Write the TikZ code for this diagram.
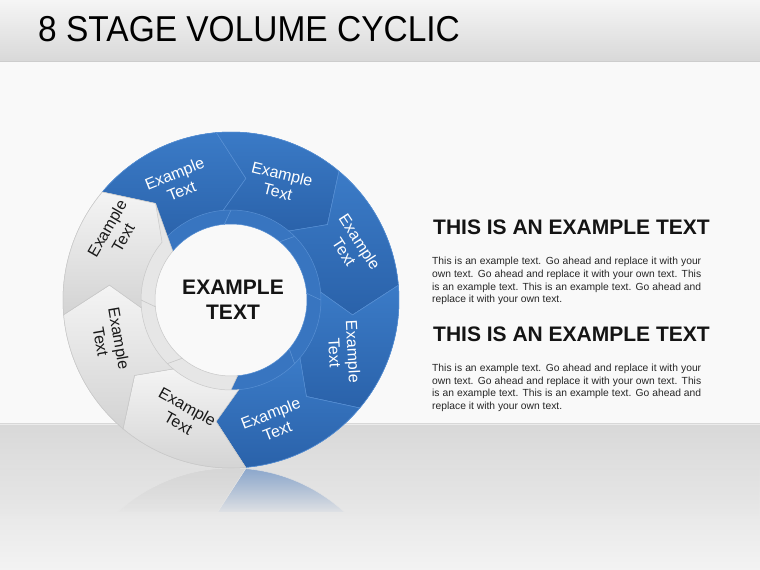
\documentclass[tikz,border=0pt]{standalone}
\usepackage{fontspec}
\setmainfont{Liberation Sans}
\newfontfamily\titlefont[FakeStretch=0.93]{Liberation Sans}
\usetikzlibrary{fadings}
\definecolor{bgwhite}{HTML}{F9F9F9}
\definecolor{titletop}{HTML}{F5F5F5}
\definecolor{titlebot}{HTML}{D8D8D8}
\definecolor{titleline}{HTML}{CDCDCD}
\definecolor{floortop}{HTML}{D8D8D8}
\definecolor{floorbot}{HTML}{F3F3F3}
\definecolor{btop}{HTML}{3B7BC7}
\definecolor{bbot}{HTML}{2A62AA}
\definecolor{bbevel}{HTML}{3875C0}
\definecolor{bedge}{HTML}{5890D4}
\definecolor{gtop}{HTML}{F4F4F4}
\definecolor{gbot}{HTML}{D3D3D3}
\definecolor{gbevel}{HTML}{E6E6E6}
\definecolor{gedge}{HTML}{C8C8C8}
\definecolor{rblue}{HTML}{8AA6CC}
\definecolor{rgray}{HTML}{D6D6D6}
\definecolor{fadeA}{HTML}{DEDEDE}
\definecolor{fadeB}{HTML}{E8E8E8}
\definecolor{bodytxt}{HTML}{262626}
\tikzfading[name=fadetofloor, top color=transparent!100, bottom color=transparent!0]
\newcommand\ringseg[3]{%
  \path[fill=#3bevel, draw=#3edge, line width=0.5pt]
    ({#1}:168) arc[start angle={#1}, end angle={#2}, radius=168]
    -- ({#2-12}:122.5) -- ({#2}:76)
    arc[start angle={#2}, end angle={#1}, radius=76]
    -- ({#1-12}:122.5) -- cycle;
  \path[top color=#3top, bottom color=#3bot, draw=#3edge, line width=0.5pt]
    ({#1}:168) arc[start angle={#1}, end angle={#2}, radius=168]
    -- ({#2-12}:122.5) -- ({#2}:90)
    arc[start angle={#2}, end angle={#1}, radius=90]
    -- ({#1-12}:122.5) -- cycle;
}
\newcommand\reflseg[3]{%
  \path[fill=#3, draw=white!90!black, line width=0.4pt]
    ({#1}:168) arc[start angle={#1}, end angle={#2}, radius=168]
    -- ({#2-12}:122.5) -- ({#2}:76)
    arc[start angle={#2}, end angle={#1}, radius=76]
    -- ({#1-12}:122.5) -- cycle;
}
\tikzset{
  seglabel/.style={font=\fontsize{16}{18.5}\selectfont, align=center, inner sep=0pt},
  onblue/.style={seglabel, text=white},
  ongray/.style={seglabel, text=black!90},
  heading/.style={font=\bfseries\fontsize{21}{24}\selectfont, anchor=base west, inner sep=0pt, text=black!92},
  bodyline/.style={font=\fontsize{10.3}{12.7}\selectfont, anchor=base west, inner sep=0pt, text=bodytxt},
  centertext/.style={font=\bfseries\fontsize{21}{24}\selectfont, anchor=base, inner sep=0pt, text=black!92}
}
\begin{document}
\begin{tikzpicture}[x=1pt,y=1pt]
\useasboundingbox (0,0) rectangle (760,570);
% background
\fill[bgwhite] (0,0) rectangle (760,570);
\shade[top color=floortop, bottom color=floorbot] (0,0) rectangle (760,146);
\draw[white!92!black, line width=0.8pt] (0,146) -- (760,146);
\shade[top color=titletop, bottom color=titlebot] (0,508) rectangle (760,570);
\draw[titleline, line width=1.2pt] (0,508.6) -- (760,508.6);
\node[anchor=base west, inner sep=0pt, font=\titlefont\fontsize{36}{40}\selectfont] (title) at (38,528) {8 STAGE VOLUME CYCLIC};
% reflection
\begin{scope}
  \clip (0,58) rectangle (760,102);
  \begin{scope}[shift={(231,-66)}, yscale=-1]
    \reflseg{140}{95}{rblue}
    \reflseg{95}{50}{rblue}
    \reflseg{50}{5}{rblue}
    \reflseg{5}{-40}{rblue}
    \reflseg{-40}{-85}{rblue}
    \reflseg{-85}{-130}{rgray}
    \reflseg{-130}{-175}{rgray}
    \reflseg{185}{140}{rgray}
  \end{scope}
\end{scope}
\shade[top color=fadeA, bottom color=fadeB, path fading=fadetofloor] (0,54) rectangle (760,102.5);
% ring
\begin{scope}[shift={(231,270)}]
  \ringseg{140}{95}{b}
  \ringseg{95}{50}{b}
  \ringseg{50}{5}{b}
  \ringseg{5}{-40}{b}
  \ringseg{-40}{-85}{b}
  \ringseg{-85}{-130}{g}
  \ringseg{-130}{-175}{g}
  \ringseg{185}{140}{g}
\end{scope}
% segment labels
\node[onblue, rotate=22] (l1) at (178,388) {Example\\Text};
\node[onblue, rotate=-14] (l2) at (280,387) {Example\\Text};
\node[onblue, rotate=-57] (l3) at (352,323) {Example\\Text};
\node[onblue, rotate=-87] (l4) at (344,218) {Example\\Text};
\node[onblue, rotate=21] (l5) at (274,148) {Example\\Text};
\node[ongray, rotate=-29] (l6) at (183,155) {Example\\Text};
\node[ongray, rotate=-80] (l7) at (110,230) {Example\\Text};
\node[ongray, rotate=60] (l8) at (115,337) {Example\\Text};
% centre text
\node[centertext] (c1) at (233,275) {EXAMPLE};
\node[centertext] (c2) at (233,250) {TEXT};
% right text
\node[heading] (h1) at (433,335) {THIS IS AN EXAMPLE TEXT};
\node[bodyline] (p1a) at (432,305) {\makebox[269pt][s]{This is an example text. Go ahead and replace it with your}};
\node[bodyline] (p1b) at (432,292.3) {\makebox[269pt][s]{own text. Go ahead and replace it with your own text. This}};
\node[bodyline] (p1c) at (432,279.7) {\makebox[269pt][s]{is an example text. This is an example text. Go ahead and}};
\node[bodyline] (p1d) at (432,267) {replace it with your own text.};
\node[heading] (h2) at (433,228) {THIS IS AN EXAMPLE TEXT};
\node[bodyline] (p2a) at (432,198) {\makebox[269pt][s]{This is an example text. Go ahead and replace it with your}};
\node[bodyline] (p2b) at (432,185.5) {\makebox[269pt][s]{own text. Go ahead and replace it with your own text. This}};
\node[bodyline] (p2c) at (432,173) {\makebox[269pt][s]{is an example text. This is an example text. Go ahead and}};
\node[bodyline] (p2d) at (432,160.5) {replace it with your own text.};
\end{tikzpicture}
\end{document}
